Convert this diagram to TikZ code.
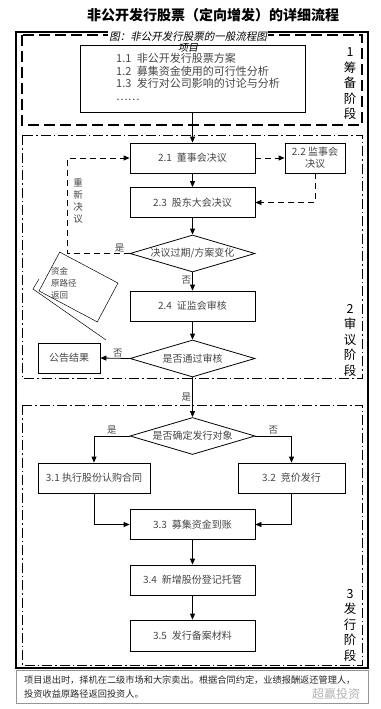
\documentclass[tikz,border=0pt]{standalone}
\usepackage{fontspec}
\setmainfont{Noto Sans CJK SC}
\newfontfamily\cjkslant[FakeSlant=0.2]{Noto Sans CJK SC}
\usepackage{xcolor}
\definecolor{boxtext}{RGB}{70,70,70}
\definecolor{footgray}{RGB}{150,150,150}
\usepackage{tikz}
\usetikzlibrary{arrows.meta, positioning, shapes.geometric}

\begin{document}
\begin{tikzpicture}[x=1pt, y=-1pt,
  stepbox/.style={draw, line width=0.8pt, minimum width=125, minimum height=30,
    inner sep=1pt, text=boxtext, font=\fontsize{10}{12}\selectfont},
  decision/.style={draw, diamond, line width=0.8pt, minimum width=125, minimum height=37,
    inner sep=0pt, label={[text=boxtext, font=\fontsize{10}{12}\selectfont]center:#1}},
  flow/.style={line width=0.8pt, -{Triangle[length=6pt,width=5pt]}},
  dflow/.style={flow, dash pattern=on 6pt off 4pt},
  ans/.style={text=boxtext, font=\fontsize{9.5}{12}\selectfont, inner sep=1pt},
  stagelabel/.style={align=center, font=\fontsize{12.5}{15.5}\selectfont},
  dashdot/.style={line width=1pt, dash pattern=on 10pt off 3pt on 1.5pt off 3pt}]
\useasboundingbox (0,0) rectangle (380,709);

% title and frames
\node[font=\fontsize{14}{16}\bfseries] (title) at (213,15) {非公开发行股票（定向增发）的详细流程};
\draw[line width=1.8pt] (16,32) rectangle (368,668);
\draw[line width=1.2pt, dash pattern=on 11pt off 5pt] (22,35) rectangle (362,125);
\draw[dashdot] (22,135) rectangle (362,378);
\draw[dashdot] (22,405) rectangle (362,665);
\node[fill=white, inner sep=1pt, font=\cjkslant\fontsize{10.5}{12}\selectfont] (caption) at (188,37) {图：非公开发行股票的一般流程图};

% stage 1
\node[draw, line width=0.8pt, minimum width=225, minimum height=67] (proj) at (192.5,78.5) {};
\node[font=\cjkslant\fontsize{10}{12}\selectfont, inner sep=0pt] (projtitle) at (188,48) {项目};
\node[anchor=north west, align=left, inner sep=0pt, text=boxtext,
      font=\fontsize{11}{12.7}\selectfont] (items) at (116,53)
  {1.1\enspace 非公开发行股票方案\\1.2\enspace 募集资金使用的可行性分析\\1.3\enspace 发行对公司影响的讨论与分析\\……};
\node[stagelabel] (stage1) at (350,84) {1\\筹\\备\\阶\\段};

% stage 2
\node[stepbox] (b21) at (192.5,158) {2.1\enspace 董事会决议};
\node[stepbox, minimum width=60, align=center] (b22) at (315,158) {2.2\ 监事会\\决议};
\node[stepbox] (b23) at (192.5,202.5) {2.3\enspace 股东大会决议};
\node[decision={决议过期/方案变化}] (d1) at (192.5,253.5) {};
\node[stepbox] (b24) at (192.5,306) {2.4\enspace 证监会审核};
\node[decision={是否通过审核}] (d2) at (192.5,358.5) {};
\node[stepbox, minimum width=62] (notice) at (69,358) {公告结果};
\node[ans, align=center] (redo) at (78,201) {重\\新\\决\\议};
\node[draw, line width=0.5pt, minimum width=66, minimum height=44, rotate=-28] (back) at (78.5,287) {};
\node[ans, align=left, anchor=north west, font=\fontsize{8.5}{12}\selectfont] (backtext) at (50,266) {资金\\原路径\\返回};
\draw[line width=0.5pt] (39,279) -- (33,289) -- (106,340);
\node[stagelabel] (stage2) at (350,340) {2\\审\\议\\阶\\段};

\draw[flow] (proj.south) -- (b21.north);
\draw[flow] (b21) -- (b23);
\draw[dflow] (b21.east) -- (b22.west);
\draw[dflow] (b22.south) |- (b23.east);
\draw[flow] (b23) -- (d1);
\draw[dflow] (d1.west) -- node[ans, pos=0.16, above] (yes1) {是} ++(-62,0) |- (b21.west);
\draw[flow] (d1.south) -- node[ans, left, pos=0.4] (no1) {否} (b24.north);
\draw[flow] (b24) -- (d2);
\draw[flow] (d2.west) -- node[ans, above, pos=0.4] (no2) {否} (notice.east);

% stage 3
\node[decision={是否确定发行对象}] (d3) at (192.5,436) {};
\node[stepbox, minimum width=112] (b31) at (94,478) {3.1\ 执行股份认购合同};
\node[stepbox, minimum width=107] (b32) at (291.5,478) {3.2\enspace 竞价发行};
\node[stepbox] (b33) at (192.5,524.5) {3.3\enspace 募集资金到账};
\node[stepbox] (b34) at (192.5,580) {3.4\enspace 新增股份登记托管};
\node[stepbox, minimum height=31] (b35) at (192.5,635.5) {3.5\enspace 发行备案材料};
\node[stagelabel] (stage3) at (350,625) {3\\发\\行\\阶\\段};

\draw[flow] (d2.south) -- node[ans, left, pos=0.5] (yes2) {是} (d3.north);
\draw[flow] (d3.west) -| node[ans, above, pos=0.25] (yes3) {是} (b31.north);
\draw[flow] (d3.east) -| node[ans, above, pos=0.25] (no3) {否} (b32.north);
\draw[flow] (b31.south) |- (b33.west);
\draw[flow] (b32.south) |- (b33.east);
\draw[flow] (b33) -- (b34);
\draw[flow] (b34) -- (b35);

% footer
\node[draw=footgray, line width=1pt, minimum width=352, minimum height=33] (foot) at (192,686.5) {};
\node[anchor=west, align=left, inner sep=0pt, text=black!85,
      font=\fontsize{9.2}{14}\selectfont] (foottext) at (24,687)
  {项目退出时，择机在二级市场和大宗卖出。根据合同约定，业绩报酬返还管理人，\\投资收益原路径返回投资人。};
\node[text=black!30, font=\fontsize{12}{14}\selectfont] (mark) at (336,694) {超赢投资};
\end{tikzpicture}
\end{document}
